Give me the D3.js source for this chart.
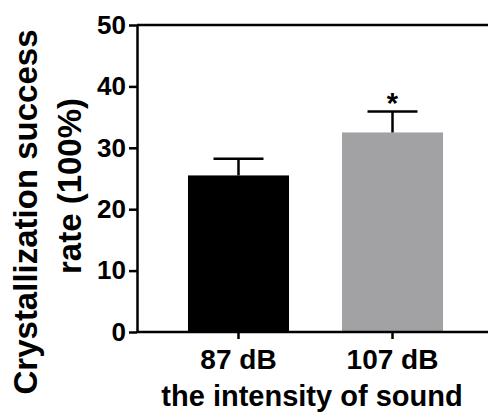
<!DOCTYPE html>
<html>
<head>
<meta charset="utf-8">
<script src="https://cdn.jsdelivr.net/npm/d3@7"></script>
<style>
  body { margin: 0; background: #fff; }
  text { font-family: "Liberation Sans", Arial, sans-serif; font-weight: bold; fill: #000; }
</style>
</head>
<body>
<div id="chart"></div>
<script>
// data
const groups = ["87 dB", "107 dB"];
const means = [25.5, 32.5];
const errors = [2.7, 3.4];
const barColors = ["#000000", "#a2a2a5"];
const signif = ["", "*"];
const yTicks = [0, 10, 20, 30, 40, 50];

const width = 488, height = 414;
const margin = { top: 25, right: 0, bottom: 82, left: 137 };

const svg = d3.select("#chart").append("svg")
  .attr("width", width)
  .attr("height", height);

const y = d3.scaleLinear().domain([0, 50]).range([height - margin.bottom, margin.top]);
// plot frame runs past the right edge of the picture
const x = d3.scaleBand().domain(groups).range([margin.left, 494]).paddingInner(0.344).paddingOuter(0.331);

// bars
svg.selectAll("rect.bar")
  .data(groups)
  .enter()
  .append("rect")
  .attr("class", "bar")
  .attr("x", d => x(d))
  .attr("width", x.bandwidth())
  .attr("y", (d, i) => y(means[i]))
  .attr("height", (d, i) => y(0) - y(means[i]))
  .attr("fill", (d, i) => barColors[i]);

// error bars (upper only)
const eb = svg.selectAll("g.err")
  .data(groups)
  .enter()
  .append("g")
  .attr("class", "err");

eb.append("line")
  .attr("x1", d => x(d) + x.bandwidth() / 2)
  .attr("x2", d => x(d) + x.bandwidth() / 2)
  .attr("y1", (d, i) => y(means[i]))
  .attr("y2", (d, i) => y(means[i] + errors[i]))
  .attr("stroke", "#000")
  .attr("stroke-width", 2.5);

eb.append("line")
  .attr("x1", d => x(d) + x.bandwidth() / 2 - 25)
  .attr("x2", d => x(d) + x.bandwidth() / 2 + 25)
  .attr("y1", (d, i) => y(means[i] + errors[i]))
  .attr("y2", (d, i) => y(means[i] + errors[i]))
  .attr("stroke", "#000")
  .attr("stroke-width", 2.5);

// significance marks
svg.selectAll("text.sig")
  .data(groups)
  .enter()
  .append("text")
  .attr("class", "sig")
  .attr("text-anchor", "middle")
  .attr("x", d => x(d) + x.bandwidth() / 2)
  .attr("y", (d, i) => y(means[i] + errors[i]) + 1)
  .attr("font-size", "29px")
  .text((d, i) => signif[i]);

// top frame line
svg.append("line")
  .attr("x1", margin.left)
  .attr("x2", width)
  .attr("y1", y(50))
  .attr("y2", y(50))
  .attr("stroke", "#000")
  .attr("stroke-width", 2.5);

// y axis
const yAxis = svg.append("g")
  .attr("transform", `translate(${margin.left},0)`)
  .call(d3.axisLeft(y).tickValues(yTicks).tickSize(8).tickPadding(3).tickSizeOuter(0));
yAxis.select(".domain").attr("stroke-width", 2.5);
yAxis.selectAll(".tick line").attr("stroke-width", 2.5);
yAxis.selectAll(".tick text")
  .attr("font-size", "26px")
  .attr("font-family", null);

// x axis
const xAxis = svg.append("g")
  .attr("transform", `translate(0,${y(0)})`)
  .call(d3.axisBottom(x).tickSize(7).tickPadding(10).tickSizeOuter(0));
xAxis.select(".domain").attr("stroke-width", 2.5).attr("d", `M${margin.left},0H${width}`);
xAxis.selectAll(".tick line").attr("stroke-width", 2.5);
xAxis.selectAll(".tick text")
  .attr("font-size", "28px")
  .attr("font-family", null);

// x title
svg.append("text")
  .attr("text-anchor", "middle")
  .attr("x", 312)
  .attr("y", 406)
  .attr("font-size", "29px")
  .text("the intensity of sound");

// y title
const yt = svg.append("text")
  .attr("text-anchor", "middle")
  .attr("transform", "rotate(-90)")
  .attr("font-size", "33px");
yt.append("tspan").attr("x", -212).attr("y", 37).text("Crystallization success");
yt.append("tspan").attr("x", -186).attr("y", 81).text("rate (100%)");
</script>
</body>
</html>
